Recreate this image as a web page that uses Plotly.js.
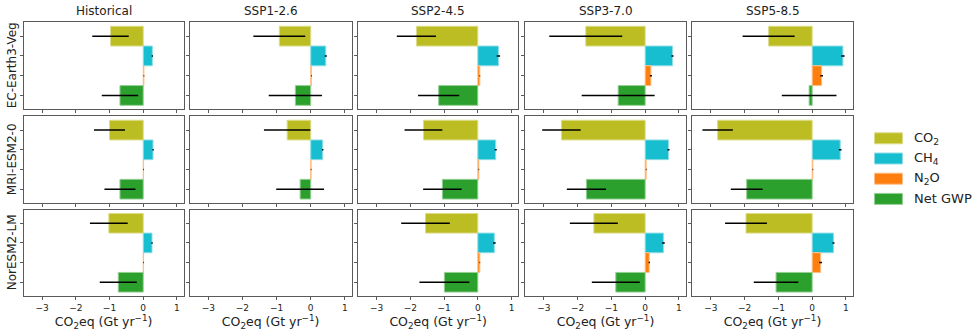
<!DOCTYPE html>
<html>
<head>
<meta charset="utf-8">
<script src="https://cdn.plot.ly/plotly-3.0.1.min.js"></script>
<style>
  html, body { margin: 0; padding: 0; background: #ffffff; }
  #chart { width: 980px; height: 336px; }
</style>
</head>
<body>
<div id="chart"></div>
<script>
// Models (rows) and scenarios (columns)
const models = ['EC-Earth3-Veg', 'MRI-ESM2-0', 'NorESM2-LM'];
const scenarios = ['Historical', 'SSP1-2.6', 'SSP2-4.5', 'SSP3-7.0', 'SSP5-8.5'];

// Gas components, drawn top to bottom in each panel
const gases = ['CO<sub>2</sub>', 'CH<sub>4</sub>', 'N<sub>2</sub>O', 'Net GWP'];
const gasColors = ['#bcbd22', '#17becf', '#ff7f0e', '#2ca02c'];
const gasEdges = ['#dcdc8a', '#8fdde6', '#ffbf86', '#95cf95'];

// CO2-equivalent fluxes (Gt yr-1), rows = models, columns = scenarios; null = no run
const co2 = [
  [-0.97, -0.92, -1.82, -1.76, -1.29],
  [-1.00, -0.69, -1.61, -2.48, -2.80],
  [-1.02, null, -1.55, -1.52, -1.96]
];
const co2Err = [
  [0.54, 0.76, 0.58, 1.08, 0.77],
  [0.46, 0.68, 0.56, 0.57, 0.45],
  [0.56, null, 0.72, 0.71, 0.62]
];
const ch4 = [
  [0.27, 0.44, 0.61, 0.81, 0.91],
  [0.29, 0.35, 0.53, 0.69, 0.83],
  [0.26, null, 0.49, 0.54, 0.63]
];
const ch4Err = [
  [0.02, 0.03, 0.05, 0.03, 0.05],
  [0.02, 0.02, 0.03, 0.03, 0.04],
  [0.02, null, 0.04, 0.04, 0.03]
];
const n2o = [
  [0.02, 0.02, 0.06, 0.17, 0.28],
  [0.01, 0.01, 0.03, 0.03, 0.02],
  [0.01, null, 0.06, 0.12, 0.25]
];
const n2oErr = [
  [0.01, 0.01, 0.01, 0.03, 0.04],
  [0.01, 0.01, 0.01, 0.01, 0.01],
  [0.01, null, 0.01, 0.02, 0.04]
];
const net = [
  [-0.69, -0.45, -1.16, -0.80, -0.09],
  [-0.69, -0.31, -1.05, -1.74, -1.94],
  [-0.74, null, -0.99, -0.87, -1.07]
];
const netErr = [
  [0.54, 0.78, 0.61, 1.08, 0.81],
  [0.46, 0.70, 0.57, 0.58, 0.47],
  [0.55, null, 0.74, 0.71, 0.66]
];

// Shared x ticks
const xTickVals = [-3, -2, -1, 0, 1];
const xTickText = ['\u22123', '\u22122', '\u22121', '0', '1'];

// Panel geometry in pixels
const W = 980, H = 336;
const colLeft = [23.5, 189.5, 358, 525.3, 692.3];
const colRight = [183.7, 351.7, 518.3, 685.7, 852.7];
const rowTop = [22.3, 116.3, 209.5];
const rowBottom = [109.3, 203, 296];

const FONT = 'DejaVu Sans, sans-serif';
const frameColor = '#5a5a5a';

const traces = [];
const layout = {
  width: W, height: H,
  margin: {l: 0, r: 0, t: 0, b: 0},
  paper_bgcolor: '#ffffff',
  plot_bgcolor: '#ffffff',
  showlegend: false,
  font: {family: FONT, color: '#222'},
  annotations: [],
  shapes: []
};

let k = 0;
for (let r = 0; r < models.length; r++) {
  for (let c = 0; c < scenarios.length; c++) {
    k++;
    const xa = 'x' + (k === 1 ? '' : k);
    const ya = 'y' + (k === 1 ? '' : k);
    const vals = [co2[r][c], ch4[r][c], n2o[r][c], net[r][c]];
    const errs = [co2Err[r][c], ch4Err[r][c], n2oErr[r][c], netErr[r][c]];
    traces.push({
      type: 'bar',
      orientation: 'h',
      x: vals,
      y: [0, 1, 2, 3],
      width: 1,
      xaxis: xa,
      yaxis: ya,
      marker: {
        color: gasColors,
        line: {color: gasEdges, width: 1}
      },
      error_x: {
        type: 'data',
        array: errs.map(e => (e === null ? 0 : e)),
        visible: true,
        width: 0,
        thickness: 1.5,
        color: '#000000'
      },
      hoverinfo: 'skip'
    });

    const bottom = r === models.length - 1;
    layout['xaxis' + (k === 1 ? '' : k)] = {
      domain: [colLeft[c] / W, colRight[c] / W],
      anchor: ya,
      range: [-3.55, 1.2],
      tickvals: xTickVals,
      ticktext: xTickText,
      showticklabels: bottom,
      tickfont: {family: FONT, size: 9, color: '#222'},
      ticks: 'outside',
      ticklen: 3,
      tickcolor: frameColor,
      showline: true,
      mirror: true,
      linecolor: frameColor,
      linewidth: 1,
      showgrid: false,
      zeroline: false,
      fixedrange: true,
      title: bottom ? {
        text: 'CO<sub>2</sub>eq (Gt yr<sup>\u22121</sup>)',
        font: {family: FONT, size: 12.5, color: '#222'},
        standoff: 3
      } : {text: ''}
    };
    layout['yaxis' + (k === 1 ? '' : k)] = {
      domain: [1 - rowBottom[r] / H, 1 - rowTop[r] / H],
      anchor: xa,
      range: [3.7, -0.7],
      tickvals: [0, 1, 2, 3],
      showticklabels: false,
      ticks: 'outside',
      ticklen: 3,
      tickcolor: frameColor,
      showline: true,
      mirror: true,
      linecolor: frameColor,
      linewidth: 1,
      showgrid: false,
      zeroline: false,
      fixedrange: true
    };
  }
}

// Column titles
scenarios.forEach((s, c) => {
  layout.annotations.push({
    text: s, xref: 'paper', yref: 'paper',
    x: (colLeft[c] + colRight[c]) / 2 / W, y: 1 - 10.5 / H,
    xanchor: 'center', yanchor: 'middle', showarrow: false,
    font: {family: FONT, size: 12, color: '#222'}
  });
});

// Row titles
models.forEach((m, r) => {
  layout.annotations.push({
    text: m, xref: 'paper', yref: 'paper',
    x: 11.5 / W, y: 1 - (rowTop[r] + rowBottom[r]) / 2 / H,
    xanchor: 'center', yanchor: 'middle', showarrow: false, textangle: -90,
    font: {family: FONT, size: 12, color: '#222'}
  });
});

// Legend
const legX0 = 874.5, legX1 = 902.5, legY0 = 138.3, legStep = 20.2;
gases.forEach((g, i) => {
  const yc = legY0 + i * legStep;
  layout.shapes.push({
    type: 'rect', xref: 'paper', yref: 'paper',
    x0: legX0 / W, x1: legX1 / W,
    y0: 1 - (yc - 5.5) / H, y1: 1 - (yc + 5.5) / H,
    fillcolor: gasColors[i], line: {color: gasEdges[i], width: 1}
  });
  layout.annotations.push({
    text: g, xref: 'paper', yref: 'paper',
    x: 912 / W, y: 1 - yc / H,
    xanchor: 'left', yanchor: 'middle', showarrow: false,
    font: {family: FONT, size: 13, color: '#222'}
  });
});

Plotly.newPlot('chart', traces, layout, {staticPlot: true, displayModeBar: false});
</script>
</body>
</html>
